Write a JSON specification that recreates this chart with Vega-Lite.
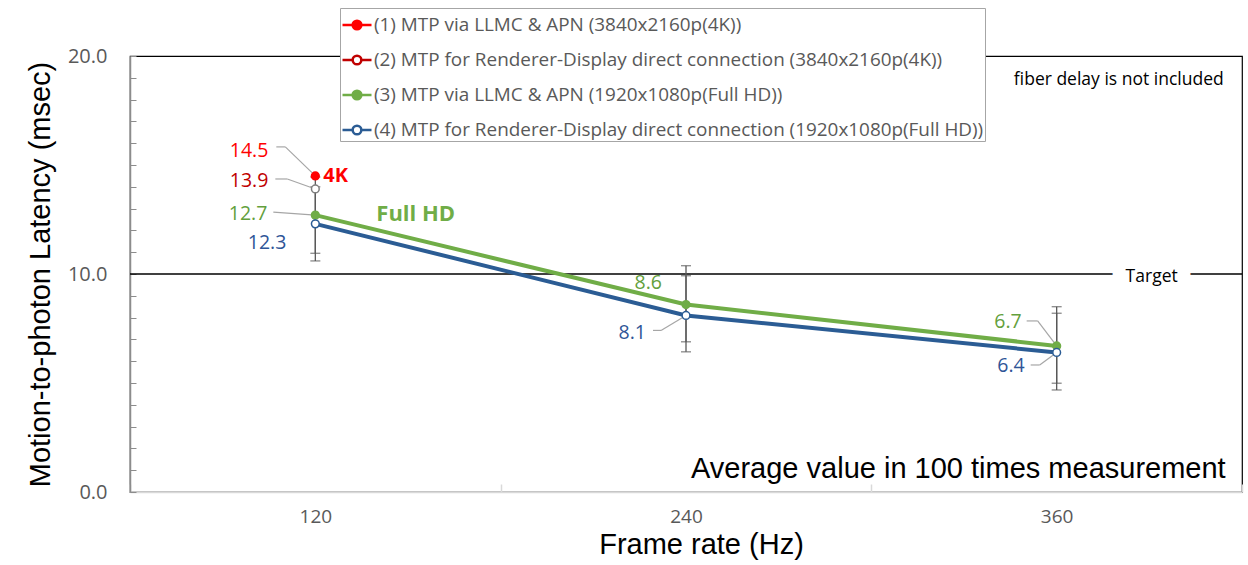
{
  "$schema": "https://vega.github.io/schema/vega-lite/v6.json",
  "width": 1112,
  "height": 436,
  "autosize": {"type": "none"},
  "padding": {"left": 130, "top": 56, "right": 6, "bottom": 73},
  "background": "white",
  "config": {
    "view": {"stroke": "#000000", "strokeWidth": 1.2},
    "font": "Open Sans",
    "legend": {
      "orient": "none",
      "legendX": 210,
      "legendY": -48,
      "direction": "vertical",
      "symbolType": "M-1,0L-0.3,0M0.3,0L1,0M-0.3,0A0.3,0.3 0 1,1 0.3,0A0.3,0.3 0 1,1 -0.3,0Z",
      "symbolSize": 841,
      "symbolStrokeWidth": 2.5,
      "labelFont": "Open Sans",
      "labelFontSize": 18.9,
      "labelColor": "#595959",
      "labelLimit": 900,
      "labelOffset": 1,
      "fillColor": "white",
      "strokeColor": "#a6a6a6",
      "padding": 1,
      "rowPadding": 9
    }
  },
  "data": {
    "values": [
      {"rate": "120", "sid": 1, "series": "(1) MTP via LLMC & APN (3840x2160p(4K))", "latency": 14.5},
      {"rate": "120", "sid": 2, "series": "(2) MTP for Renderer-Display direct connection (3840x2160p(4K))", "latency": 13.9},
      {"rate": "120", "sid": 3, "series": "(3) MTP via LLMC & APN (1920x1080p(Full HD))", "latency": 12.7, "lo": 10.95, "hi": 14.45},
      {"rate": "240", "sid": 3, "series": "(3) MTP via LLMC & APN (1920x1080p(Full HD))", "latency": 8.6, "lo": 6.89, "hi": 10.38},
      {"rate": "360", "sid": 3, "series": "(3) MTP via LLMC & APN (1920x1080p(Full HD))", "latency": 6.7, "lo": 4.99, "hi": 8.5},
      {"rate": "120", "sid": 4, "series": "(4) MTP for Renderer-Display direct connection (1920x1080p(Full HD))", "latency": 12.3, "lo": 10.6, "hi": 14.0},
      {"rate": "240", "sid": 4, "series": "(4) MTP for Renderer-Display direct connection (1920x1080p(Full HD))", "latency": 8.1, "lo": 6.43, "hi": 9.92},
      {"rate": "360", "sid": 4, "series": "(4) MTP for Renderer-Display direct connection (1920x1080p(Full HD))", "latency": 6.4, "lo": 4.68, "hi": 8.2}
    ]
  },
  "encoding": {
    "x": {
      "field": "rate",
      "type": "ordinal",
      "scale": {"type": "band", "domain": ["120", "240", "360"], "paddingInner": 0, "paddingOuter": 0},
      "axis": {
        "title": "Frame rate (Hz)",
        "titleFont": "Liberation Sans",
        "titleFontSize": 29,
        "titleFontWeight": "normal",
        "titleColor": "#000000",
        "titlePadding": 4,
        "titleX": 571,
        "labelFont": "Open Sans",
        "labelFontSize": 19,
        "labelColor": "#595959",
        "labelAngle": 0,
        "labelPadding": 23,
        "domainColor": "#d9d9d9",
        "domainWidth": 1.5,
        "tickColor": "#d9d9d9",
        "tickSize": -8,
        "tickWidth": 1.5,
        "tickBand": "extent",
        "grid": false
      }
    },
    "y": {
      "field": "latency",
      "type": "quantitative",
      "scale": {"domain": [0, 20], "nice": false, "zero": true},
      "axis": {
        "title": "Motion-to-photon Latency (msec)",
        "titleFont": "Liberation Sans",
        "titleFontSize": 29,
        "titleFontWeight": "normal",
        "titleColor": "#000000",
        "titlePadding": 12,
        "values": [0, 1, 2, 3, 4, 5, 6, 7, 8, 9, 10, 11, 12, 13, 14, 15, 16, 17, 18, 19, 20],
        "labelExpr": "datum.value % 10 === 0 ? format(datum.value, '.1f') : ''",
        "labelFont": "Open Sans",
        "labelFontSize": 20,
        "labelColor": "#595959",
        "labelPadding": 29,
        "domainColor": "#8c8c8c",
        "domainWidth": 1.5,
        "tickColor": "#8c8c8c",
        "tickSize": -6,
        "grid": false
      }
    }
  },
  "layer": [
    {
      "transform": [{"filter": "datum.sid == 1"}],
      "mark": {"type": "rule", "color": "#000000", "strokeWidth": 1.3},
      "encoding": {"x": null, "y": {"datum": 10}}
    },
    {
      "transform": [{"filter": "datum.sid == 1"}],
      "mark": {"type": "text", "text": "Target", "font": "Open Sans", "fontSize": 17.5, "stroke": "white", "strokeWidth": 26, "color": "white", "dx": 95, "dy": 3},
      "encoding": {"x": {"datum": "360"}, "y": {"datum": 10}}
    },
    {
      "transform": [{"filter": "datum.sid == 1"}],
      "mark": {"type": "text", "text": "Target", "font": "Open Sans", "fontSize": 17.5, "color": "#000000", "dx": 95, "dy": 3},
      "encoding": {"x": {"datum": "360"}, "y": {"datum": 10}}
    },
    {
      "transform": [{"filter": "datum.sid == 1"}],
      "mark": {"type": "text", "text": "fiber delay is not included", "font": "Open Sans", "fontSize": 17.5, "color": "#000000", "align": "right", "dx": 167, "dy": 24},
      "encoding": {"x": {"datum": "360"}, "y": {"datum": 20}}
    },
    {
      "transform": [{"filter": "datum.sid == 1"}],
      "mark": {"type": "text", "text": "Average value in 100 times measurement", "font": "Liberation Sans", "fontSize": 29, "color": "#000000", "align": "right", "dx": 169, "dy": -23},
      "encoding": {"x": {"datum": "360"}, "y": {"datum": 0}}
    },
    {
      "transform": [{"filter": "isValid(datum.lo)"}],
      "mark": {"type": "rule", "color": "#595959", "strokeWidth": 1.3},
      "encoding": {"y": {"field": "lo", "type": "quantitative"}, "y2": {"field": "hi"}}
    },
    {
      "transform": [{"filter": "isValid(datum.lo)"}],
      "mark": {"type": "tick", "orient": "horizontal", "size": 10, "thickness": 1.3, "color": "#595959"},
      "encoding": {"y": {"field": "lo", "type": "quantitative"}}
    },
    {
      "transform": [{"filter": "isValid(datum.hi)"}],
      "mark": {"type": "tick", "orient": "horizontal", "size": 10, "thickness": 1.3, "color": "#595959"},
      "encoding": {"y": {"field": "hi", "type": "quantitative"}}
    },
    {
      "transform": [{"filter": "datum.sid == 1"}],
      "mark": {"type": "rule", "color": "#a6a6a6", "strokeWidth": 1.2, "xOffset": -39, "x2Offset": -30, "yOffset": -29, "y2Offset": -29},
      "encoding": {"x2": {"field": "rate"}, "y2": {"field": "latency"}}
    },
    {
      "transform": [{"filter": "datum.sid == 1"}],
      "mark": {"type": "rule", "color": "#a6a6a6", "strokeWidth": 1.2, "xOffset": -30, "x2Offset": 0, "yOffset": -29, "y2Offset": 0},
      "encoding": {"x2": {"field": "rate"}, "y2": {"field": "latency"}}
    },
    {
      "transform": [{"filter": "datum.sid == 2"}],
      "mark": {"type": "rule", "color": "#a6a6a6", "strokeWidth": 1.2, "xOffset": -40, "x2Offset": -28, "yOffset": -10, "y2Offset": -10},
      "encoding": {"x2": {"field": "rate"}, "y2": {"field": "latency"}}
    },
    {
      "transform": [{"filter": "datum.sid == 2"}],
      "mark": {"type": "rule", "color": "#a6a6a6", "strokeWidth": 1.2, "xOffset": -28, "x2Offset": 0, "yOffset": -10, "y2Offset": 0},
      "encoding": {"x2": {"field": "rate"}, "y2": {"field": "latency"}}
    },
    {
      "transform": [{"filter": "datum.sid == 3 && datum.rate == '120'"}],
      "mark": {"type": "rule", "color": "#a6a6a6", "strokeWidth": 1.2, "xOffset": -42, "x2Offset": 0, "yOffset": -3, "y2Offset": 0},
      "encoding": {"x2": {"field": "rate"}, "y2": {"field": "latency"}}
    },
    {
      "transform": [{"filter": "datum.sid == 4 && datum.rate == '240'"}],
      "mark": {"type": "rule", "color": "#a6a6a6", "strokeWidth": 1.2, "xOffset": -33, "x2Offset": -25, "yOffset": 15, "y2Offset": 15},
      "encoding": {"x2": {"field": "rate"}, "y2": {"field": "latency"}}
    },
    {
      "transform": [{"filter": "datum.sid == 4 && datum.rate == '240'"}],
      "mark": {"type": "rule", "color": "#a6a6a6", "strokeWidth": 1.2, "xOffset": -25, "x2Offset": 0, "yOffset": 15, "y2Offset": 0},
      "encoding": {"x2": {"field": "rate"}, "y2": {"field": "latency"}}
    },
    {
      "transform": [{"filter": "datum.sid == 3 && datum.rate == '360'"}],
      "mark": {"type": "rule", "color": "#a6a6a6", "strokeWidth": 1.2, "xOffset": -30, "x2Offset": -19, "yOffset": -25, "y2Offset": -25},
      "encoding": {"x2": {"field": "rate"}, "y2": {"field": "latency"}}
    },
    {
      "transform": [{"filter": "datum.sid == 3 && datum.rate == '360'"}],
      "mark": {"type": "rule", "color": "#a6a6a6", "strokeWidth": 1.2, "xOffset": -19, "x2Offset": 0, "yOffset": -25, "y2Offset": 0},
      "encoding": {"x2": {"field": "rate"}, "y2": {"field": "latency"}}
    },
    {
      "transform": [{"filter": "datum.sid == 4 && datum.rate == '360'"}],
      "mark": {"type": "rule", "color": "#a6a6a6", "strokeWidth": 1.2, "xOffset": -26, "x2Offset": -17, "yOffset": 12.5, "y2Offset": 12.5},
      "encoding": {"x2": {"field": "rate"}, "y2": {"field": "latency"}}
    },
    {
      "transform": [{"filter": "datum.sid == 4 && datum.rate == '360'"}],
      "mark": {"type": "rule", "color": "#a6a6a6", "strokeWidth": 1.2, "xOffset": -17, "x2Offset": 0, "yOffset": 12.5, "y2Offset": 0},
      "encoding": {"x2": {"field": "rate"}, "y2": {"field": "latency"}}
    },
    {
      "mark": {"type": "line", "strokeWidth": 4},
      "encoding": {
        "color": {
          "field": "series",
          "type": "nominal",
          "scale": {
            "domain": ["(1) MTP via LLMC & APN (3840x2160p(4K))", "(2) MTP for Renderer-Display direct connection (3840x2160p(4K))", "(3) MTP via LLMC & APN (1920x1080p(Full HD))", "(4) MTP for Renderer-Display direct connection (1920x1080p(Full HD))"],
            "range": ["#ff0000", "#c00000", "#70ad47", "#2b5c94"]
          },
          "legend": {"title": null}
        }
      }
    },
    {
      "mark": {"type": "point", "filled": false, "size": 60, "strokeWidth": 1.5, "opacity": 1},
      "encoding": {
        "fill": {
          "field": "series",
          "type": "nominal",
          "scale": {
            "domain": ["(1) MTP via LLMC & APN (3840x2160p(4K))", "(2) MTP for Renderer-Display direct connection (3840x2160p(4K))", "(3) MTP via LLMC & APN (1920x1080p(Full HD))", "(4) MTP for Renderer-Display direct connection (1920x1080p(Full HD))"],
            "range": ["#ff0000", "#ffffff", "#70ad47", "#ffffff"]
          },
          "legend": {"title": null}
        },
        "stroke": {
          "field": "series",
          "type": "nominal",
          "scale": {
            "domain": ["(1) MTP via LLMC & APN (3840x2160p(4K))", "(2) MTP for Renderer-Display direct connection (3840x2160p(4K))", "(3) MTP via LLMC & APN (1920x1080p(Full HD))", "(4) MTP for Renderer-Display direct connection (1920x1080p(Full HD))"],
            "range": ["#ff0000", "#7f7f7f", "#70ad47", "#2b5c94"]
          },
          "legend": null
        }
      }
    },
    {
      "transform": [{"filter": "datum.sid == 1"}],
      "mark": {"type": "text", "align": "right", "baseline": "middle", "fontSize": 19.5, "color": "#ff0000", "dx": -47, "dy": -25},
      "encoding": {"text": {"field": "latency", "format": ".1f"}}
    },
    {
      "transform": [{"filter": "datum.sid == 2"}],
      "mark": {"type": "text", "align": "right", "baseline": "middle", "fontSize": 19.5, "color": "#c00000", "dx": -47, "dy": -8},
      "encoding": {"text": {"field": "latency", "format": ".1f"}}
    },
    {
      "transform": [{"filter": "datum.sid == 3 && datum.rate == '120'"}],
      "mark": {"type": "text", "align": "right", "baseline": "middle", "fontSize": 19.5, "color": "#63a03c", "dx": -48, "dy": -1},
      "encoding": {"text": {"field": "latency", "format": ".1f"}}
    },
    {
      "transform": [{"filter": "datum.sid == 4 && datum.rate == '120'"}],
      "mark": {"type": "text", "align": "right", "baseline": "middle", "fontSize": 19.5, "color": "#2f5597", "dx": -29, "dy": 19},
      "encoding": {"text": {"field": "latency", "format": ".1f"}}
    },
    {
      "transform": [{"filter": "datum.sid == 3 && datum.rate == '240'"}],
      "mark": {"type": "text", "align": "right", "baseline": "middle", "fontSize": 19.5, "color": "#63a03c", "dx": -24, "dy": -22},
      "encoding": {"text": {"field": "latency", "format": ".1f"}}
    },
    {
      "transform": [{"filter": "datum.sid == 4 && datum.rate == '240'"}],
      "mark": {"type": "text", "align": "right", "baseline": "middle", "fontSize": 19.5, "color": "#2f5597", "dx": -40, "dy": 18},
      "encoding": {"text": {"field": "latency", "format": ".1f"}}
    },
    {
      "transform": [{"filter": "datum.sid == 3 && datum.rate == '360'"}],
      "mark": {"type": "text", "align": "right", "baseline": "middle", "fontSize": 19.5, "color": "#63a03c", "dx": -35, "dy": -24},
      "encoding": {"text": {"field": "latency", "format": ".1f"}}
    },
    {
      "transform": [{"filter": "datum.sid == 4 && datum.rate == '360'"}],
      "mark": {"type": "text", "align": "right", "baseline": "middle", "fontSize": 19.5, "color": "#2f5597", "dx": -32, "dy": 14},
      "encoding": {"text": {"field": "latency", "format": ".1f"}}
    },
    {
      "transform": [{"filter": "datum.sid == 1"}],
      "mark": {"type": "text", "text": "4K", "align": "left", "baseline": "middle", "fontSize": 20, "fontWeight": "bold", "color": "#ff0000", "dx": 8, "dy": 0},
      "encoding": {}
    },
    {
      "transform": [{"filter": "datum.sid == 3 && datum.rate == '120'"}],
      "mark": {"type": "text", "text": "Full HD", "align": "left", "baseline": "middle", "fontSize": 22, "fontWeight": "bold", "color": "#70ad47", "dx": 61, "dy": -1},
      "encoding": {}
    }
  ]
}
